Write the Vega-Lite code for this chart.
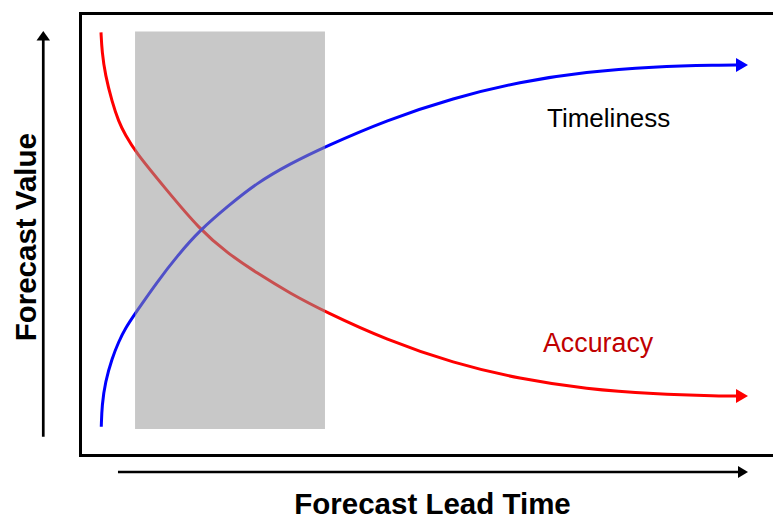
{
  "$schema": "https://vega.github.io/schema/vega-lite/v6.json",
  "width": 693,
  "height": 442,
  "autosize": {"type": "none"},
  "padding": {"left": 80, "top": 13, "right": 0, "bottom": 65},
  "background": "white",
  "config": {"view": {"stroke": null}, "font": "Liberation Sans"},
  "datasets": {
    "curves": [
      {"series": "Accuracy", "x": 3.03, "y": 95.63},
      {"series": "Accuracy", "x": 3.17, "y": 91.24},
      {"series": "Accuracy", "x": 3.65, "y": 85.97},
      {"series": "Accuracy", "x": 4.62, "y": 79.93},
      {"series": "Accuracy", "x": 5.58, "y": 75.41},
      {"series": "Accuracy", "x": 6.54, "y": 72.4},
      {"series": "Accuracy", "x": 7.98, "y": 68.62},
      {"series": "Accuracy", "x": 12.02, "y": 60.86},
      {"series": "Accuracy", "x": 17.32, "y": 50.9},
      {"series": "Accuracy", "x": 21.36, "y": 45.59},
      {"series": "Accuracy", "x": 25.5, "y": 41.18},
      {"series": "Accuracy", "x": 30.3, "y": 36.6},
      {"series": "Accuracy", "x": 35.35, "y": 32.42},
      {"series": "Accuracy", "x": 44.26, "y": 26.02},
      {"series": "Accuracy", "x": 53.82, "y": 20.81},
      {"series": "Accuracy", "x": 63.49, "y": 17.19},
      {"series": "Accuracy", "x": 73.12, "y": 14.93},
      {"series": "Accuracy", "x": 82.68, "y": 13.8},
      {"series": "Accuracy", "x": 92.35, "y": 13.35},
      {"series": "Accuracy", "x": 95.09, "y": 13.35},
      {"series": "Timeliness", "x": 3.07, "y": 6.4},
      {"series": "Timeliness", "x": 3.17, "y": 11.31},
      {"series": "Timeliness", "x": 3.65, "y": 16.58},
      {"series": "Timeliness", "x": 4.62, "y": 21.88},
      {"series": "Timeliness", "x": 5.58, "y": 25.63},
      {"series": "Timeliness", "x": 6.54, "y": 28.67},
      {"series": "Timeliness", "x": 7.98, "y": 32.06},
      {"series": "Timeliness", "x": 11.07, "y": 39.03},
      {"series": "Timeliness", "x": 14.14, "y": 45.25},
      {"series": "Timeliness", "x": 17.32, "y": 50.9},
      {"series": "Timeliness", "x": 21.36, "y": 56.33},
      {"series": "Timeliness", "x": 25.5, "y": 61.54},
      {"series": "Timeliness", "x": 30.3, "y": 65.88},
      {"series": "Timeliness", "x": 35.35, "y": 69.75},
      {"series": "Timeliness", "x": 44.26, "y": 75.79},
      {"series": "Timeliness", "x": 53.82, "y": 80.77},
      {"series": "Timeliness", "x": 63.49, "y": 84.46},
      {"series": "Timeliness", "x": 73.12, "y": 86.72},
      {"series": "Timeliness", "x": 82.68, "y": 87.85},
      {"series": "Timeliness", "x": 92.35, "y": 88.24},
      {"series": "Timeliness", "x": 95.09, "y": 88.24}
    ],
    "band": [{"x1": 7.94, "x2": 35.35, "y1": 5.9, "y2": 95.8}],
    "arrows": [
      {"x": -5.3, "y": 4.14, "x2": -5.3, "y2": 93.9},
      {"x": 5.48, "y": -3.85, "x2": 95.09, "y2": -3.85}
    ],
    "heads": [
      {"series": "Accuracy", "head": "curve", "x": 95.53, "y": 13.35},
      {"series": "Timeliness", "head": "curve", "x": 95.53, "y": 88.24},
      {"series": "Axis", "head": "xaxis", "x": 95.67, "y": -3.85},
      {"series": "Axis", "head": "yaxis", "x": -5.3, "y": 94.85}
    ],
    "labels": [
      {"label": "Timeliness", "x": 67.39, "y": 74.3},
      {"label": "Accuracy", "x": 66.81, "y": 23.37}
    ]
  },
  "resolve": {"axis": {"x": "independent", "y": "independent"}},
  "layer": [
    {
      "data": {"name": "curves"},
      "mark": {"type": "line", "interpolate": "basis", "strokeWidth": 3, "clip": false},
      "encoding": {
        "x": {
          "field": "x", "type": "quantitative",
          "scale": {"domain": [0, 100], "nice": false, "zero": false},
          "axis": {
            "orient": "bottom", "title": "Forecast Lead Time", "labels": false, "ticks": false, "grid": false,
            "domain": true, "domainColor": "#000000", "domainWidth": 3, "domainCap": "square",
            "titleFont": "Liberation Sans", "titleFontSize": 29.5, "titleFontWeight": "bold", "titleColor": "#000000",
            "titleX": 352, "titleY": 58.5, "titleAlign": "center", "titleBaseline": "alphabetic", "titleAngle": 0
          }
        },
        "y": {
          "field": "y", "type": "quantitative",
          "scale": {"domain": [0, 100], "nice": false, "zero": false},
          "axis": {
            "orient": "left", "title": "Forecast Value", "labels": false, "ticks": false, "grid": false,
            "domain": true, "domainColor": "#000000", "domainWidth": 3, "domainCap": "square",
            "titleFont": "Liberation Sans", "titleFontSize": 29.5, "titleFontWeight": "bold", "titleColor": "#000000",
            "titleX": -45, "titleY": 223.7, "titleAlign": "center", "titleBaseline": "alphabetic", "titleAngle": -90
          }
        },
        "color": {
          "field": "series", "type": "nominal",
          "scale": {"domain": ["Accuracy", "Timeliness", "Axis"], "range": ["#ff0000", "#0000ff", "#000000"]},
          "legend": null
        },
        "order": {"field": "x", "type": "quantitative"}
      }
    },
    {
      "data": {"name": "band"},
      "mark": {"type": "rect", "color": "#979797", "opacity": 0.53, "clip": false},
      "encoding": {
        "x": {
          "field": "x1", "type": "quantitative",
          "scale": {"domain": [0, 100], "nice": false, "zero": false},
          "axis": {
            "orient": "top", "title": null, "labels": false, "ticks": false, "grid": false,
            "domain": true, "domainColor": "#000000", "domainWidth": 3, "domainCap": "square"
          }
        },
        "x2": {"field": "x2"},
        "y": {"field": "y1", "type": "quantitative", "scale": {"domain": [0, 100], "nice": false, "zero": false}, "axis": null},
        "y2": {"field": "y2"}
      }
    },
    {
      "data": {"name": "arrows"},
      "mark": {"type": "rule", "color": "#000000", "strokeWidth": 2.7, "clip": false},
      "encoding": {
        "x": {"field": "x", "type": "quantitative", "scale": {"domain": [0, 100], "nice": false, "zero": false}, "axis": null},
        "x2": {"field": "x2"},
        "y": {"field": "y", "type": "quantitative", "scale": {"domain": [0, 100], "nice": false, "zero": false}, "axis": null},
        "y2": {"field": "y2"}
      }
    },
    {
      "data": {"name": "heads"},
      "mark": {"type": "point", "filled": true, "opacity": 1, "size": 100, "strokeWidth": 0, "clip": false},
      "encoding": {
        "x": {"field": "x", "type": "quantitative", "scale": {"domain": [0, 100], "nice": false, "zero": false}, "axis": null},
        "y": {"field": "y", "type": "quantitative", "scale": {"domain": [0, 100], "nice": false, "zero": false}, "axis": null},
        "shape": {
          "field": "head", "type": "nominal",
          "scale": {"domain": ["curve", "xaxis", "yaxis"], "range": ["M1.2,0L-1.2,1.4L-1.2,-1.4Z", "M1,0L-1,1.2L-1,-1.2Z", "M0,-0.95L1.35,0.95L-1.35,0.95Z"]},
          "legend": null
        },
        "color": {
          "field": "series", "type": "nominal",
          "scale": {"domain": ["Accuracy", "Timeliness", "Axis"], "range": ["#ff0000", "#0000ff", "#000000"]},
          "legend": null
        }
      }
    },
    {
      "data": {"name": "labels"},
      "transform": [{"filter": "datum.label === 'Timeliness'"}],
      "mark": {"type": "text", "align": "left", "baseline": "alphabetic", "font": "Liberation Sans", "fontSize": 26, "color": "#000000", "clip": false},
      "encoding": {
        "x": {"field": "x", "type": "quantitative", "scale": {"domain": [0, 100], "nice": false, "zero": false}, "axis": null},
        "y": {"field": "y", "type": "quantitative", "scale": {"domain": [0, 100], "nice": false, "zero": false}, "axis": null},
        "text": {"field": "label"}
      }
    },
    {
      "data": {"name": "labels"},
      "transform": [{"filter": "datum.label === 'Accuracy'"}],
      "mark": {"type": "text", "align": "left", "baseline": "alphabetic", "font": "Liberation Sans", "fontSize": 26.8, "color": "#c00000", "clip": false},
      "encoding": {
        "x": {"field": "x", "type": "quantitative", "scale": {"domain": [0, 100], "nice": false, "zero": false}, "axis": null},
        "y": {"field": "y", "type": "quantitative", "scale": {"domain": [0, 100], "nice": false, "zero": false}, "axis": null},
        "text": {"field": "label"}
      }
    }
  ]
}
